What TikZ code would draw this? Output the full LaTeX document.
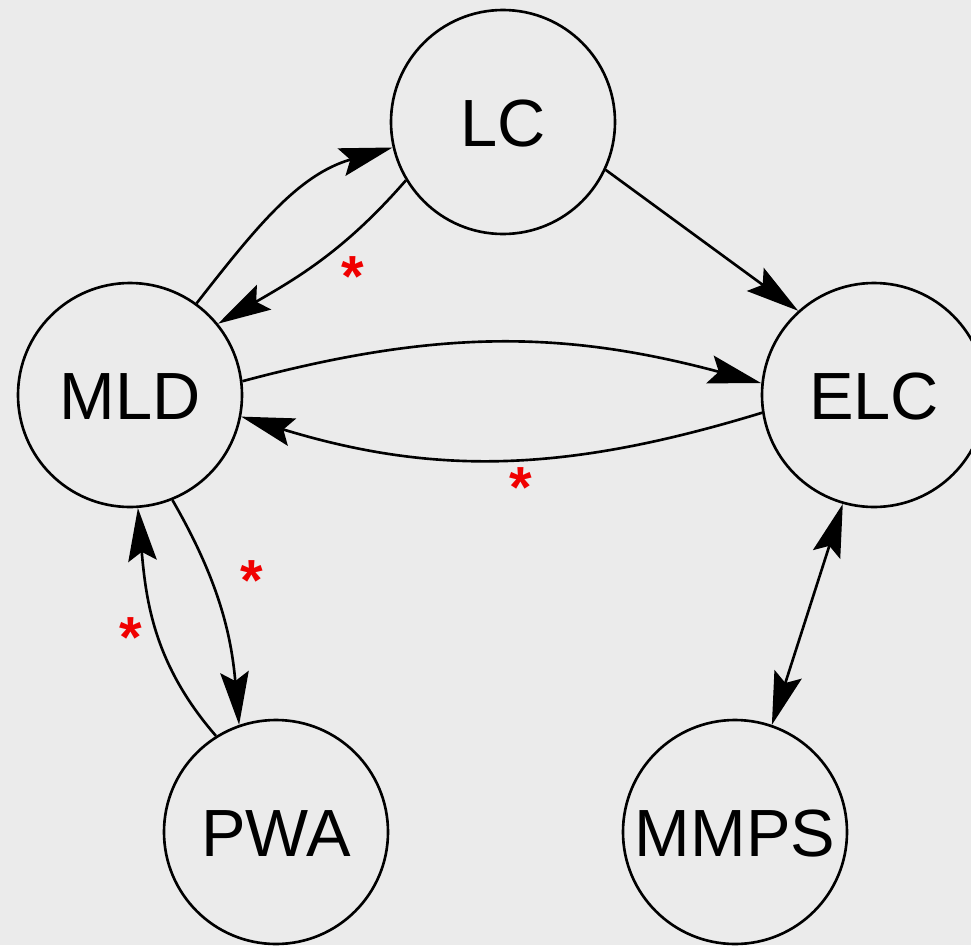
\documentclass[tikz,border=0pt]{standalone}
\usepackage{fontspec}
\setmainfont{Liberation Sans}
\usepackage{tikz}
\usetikzlibrary{arrows.meta,calc,positioning}
\definecolor{bggray}{RGB}{235,235,235}
\definecolor{starred}{RGB}{240,0,0}
\tikzset{
	state/.style={circle,draw,line width=1.5pt,minimum size=4.48cm,inner sep=0pt,text height=27.4pt,text depth=0pt,font=\fontsize{38}{46}\selectfont},
	star/.style={text=starred,inner sep=0pt,font=\fontsize{33}{40}\selectfont\bfseries}
}

\begin{document}
\begin{tikzpicture}[>={Stealth[length=1.06cm,width=0.57cm,inset=0.18cm]},line width=1.5pt]
	\clip (0,0) rectangle (19.42,-18.9); \fill[bggray] (0,0) rectangle (19.42,-18.9);

	\node[state] (LC) at (10.06,-2.44) {LC}; \node[state] (MLD) at (2.6,-7.9) {MLD}; \node[state] (ELC) at (17.48,-7.9) {ELC};
	\node[state] (PWA) at (5.52,-16.64) {PWA}; \node[state] (MMPS) at (14.7,-16.64) {MMPS};

	\draw[->] (MLD.54) to[out=52,in=196] (LC.193); \draw[->] (LC.211) to[out=229,in=30] (MLD.39); \node[star] (s1) at (7.05,-5.54) {*};
	\draw[->] (LC.-25) -- (ELC.132);
	\draw[->] (MLD.7) to[out=15,in=165] (ELC.174); \draw[->] (ELC.189) to[out=197,in=-17] (MLD.-11); \node[star] (s2) at (10.42,-9.76) {*};
	\draw[->] (MLD.-68) to[out=-60,in=95] (PWA.109); \node[star] (s3) at (5.04,-11.62) {*};
	\draw[->] (PWA.122) to[out=131,in=-85] (MLD.-86); \node[star] (s4) at (2.62,-12.76) {*};
	\draw[<->] (ELC.-106) -- (MMPS.71);
\end{tikzpicture}
\end{document}
